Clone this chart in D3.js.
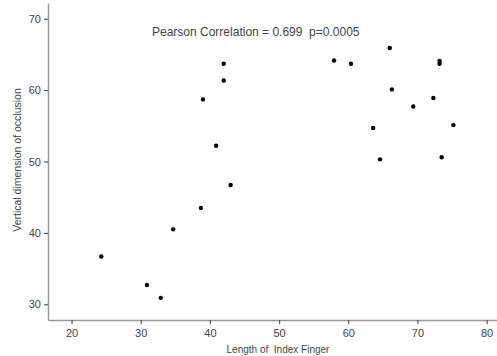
<!DOCTYPE html>
<meta charset="utf-8">
<style>
    body { margin: 0; background: #fff; }
    text { font-family: "Liberation Sans", Arial, sans-serif; fill: #444; white-space: pre; }
</style>
<svg width="497" height="356"></svg>
<script src="https://d3js.org/d3.v7.min.js"></script>
<script>
    // index finger length vs vertical dimension of occlusion
    var fingerLength = [42.0, 42.0, 39.0, 40.9, 66.0, 57.95, 60.4, 73.2, 73.2, 66.3, 72.3,
        69.4, 63.6, 75.2, 64.6, 73.5, 43.0, 38.7, 34.7, 24.3, 30.9, 32.9];
    var occlusion = [63.7, 61.35, 58.7, 52.2, 65.9, 64.15, 63.7, 64.1, 63.7, 60.1, 58.9,
        57.7, 54.7, 55.1, 50.3, 50.6, 46.7, 43.5, 40.5, 36.7, 32.7, 30.9];
    var xTicks = [20, 30, 40, 50, 60, 70, 80];
    var yTicks = [30, 40, 50, 60, 70];
    var annotation = "Pearson Correlation = 0.699  p=0.0005";

    var svg = d3.select("svg"),
        margin = {top: 3, right: 0, bottom: 36, left: 48},
        width = svg.attr("width") - margin.left - margin.right,
        height = svg.attr("height") - margin.top - margin.bottom,
        g = svg.append("g").attr("transform", "translate(" + margin.left + "," + margin.top + ")");

    let x = d3.scaleLinear()
        .domain([16.6, 81.5])
        .range([0, width]);
    let y = d3.scaleLinear()
        .domain([27.8, 72.2])
        .range([height, 0]);

    let xAxis = g.append("g")
        .attr("transform", `translate(0,${height})`)
        .call(d3.axisBottom(x).tickValues(xTicks).tickSize(4).tickSizeOuter(0));
    let yAxis = g.append("g")
        .call(d3.axisLeft(y).tickValues(yTicks).tickSize(4).tickSizeOuter(0));

    [xAxis, yAxis].forEach(function (a) {
        a.select(".domain").attr("stroke", "#999").attr("stroke-width", 1.5);
        a.selectAll(".tick line").attr("stroke", "#555").attr("stroke-width", 1.2);
        a.selectAll(".tick text").attr("fill", "#444").attr("font-size", 11)
            .attr("font-family", "Liberation Sans, Arial, sans-serif");
    });
    xAxis.selectAll(".tick text").attr("dy", "0.9em");

    let points = fingerLength.map((v, i) => ({x: v, y: occlusion[i]}));
    g.append("g")
        .selectAll("circle")
        .data(points)
        .enter()
        .append("circle")
        .attr("cx", d => x(d.x))
        .attr("cy", d => y(d.y))
        .attr("r", 2.2)
        .attr("fill", "#000");

    // correlation note
    svg.append("text")
        .attr("x", 152)
        .attr("y", 36)
        .attr("font-size", 12)
        .text(annotation);

    //X axis text
    svg.append("text")
        .attr("x", 278)
        .attr("y", 353)
        .attr("text-anchor", "middle")
        .attr("font-size", 10)
        .text("Length of  Index Finger");

    //Y axis text
    svg.append("text")
        .attr("transform", "translate(21,160) rotate(-90)")
        .attr("text-anchor", "middle")
        .attr("font-size", 10.5)
        .text("Vertical dimension of occlusion");
</script>
